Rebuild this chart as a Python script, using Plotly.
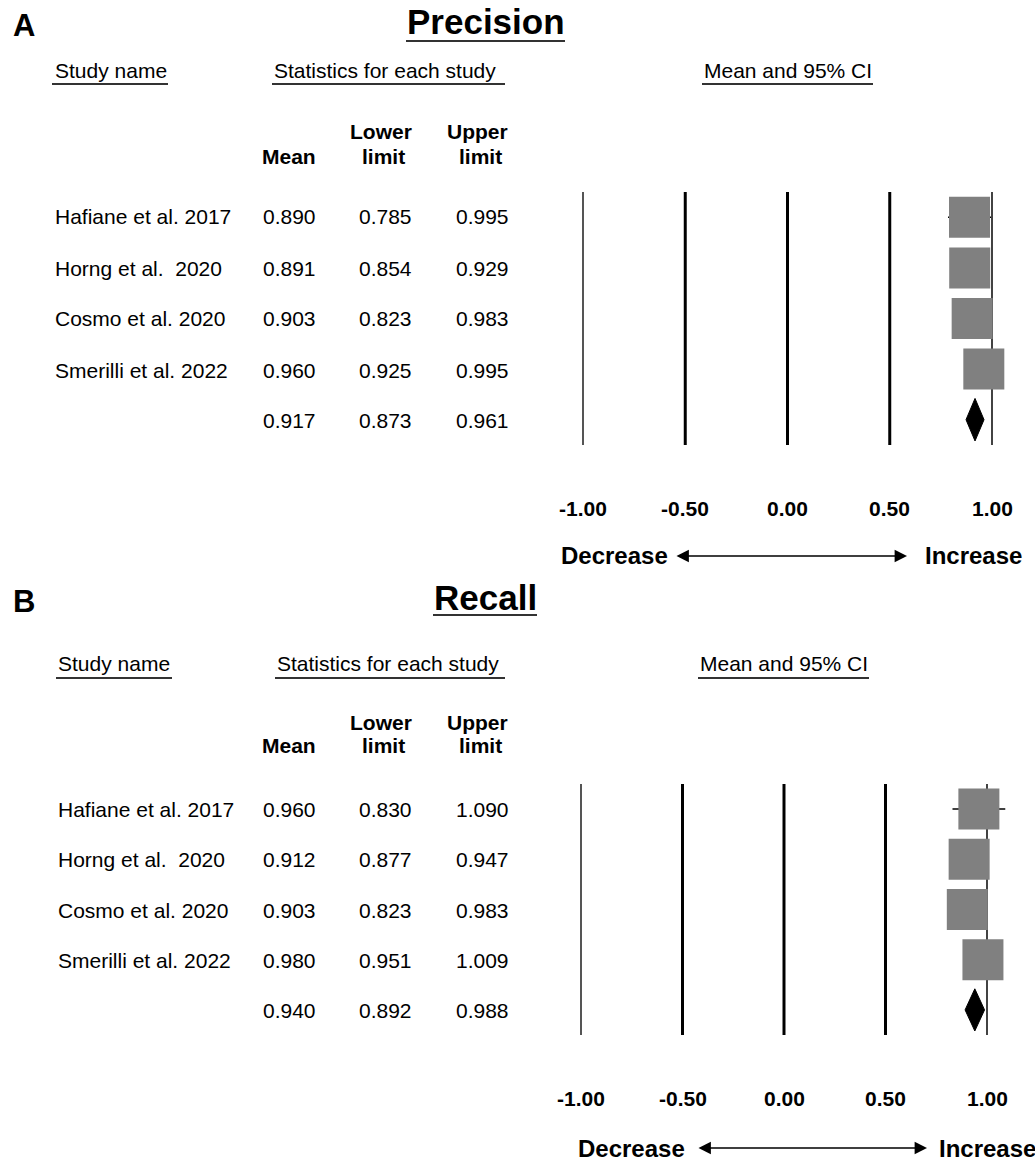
import plotly.graph_objects as go

W, H = 1035, 1163
FONT = "Arial, 'Liberation Sans', sans-serif"

# ---------------- data ----------------
studies = ["Hafiane et al. 2017", "Horng et al.\u00a0 2020", "Cosmo et al. 2020", "Smerilli et al. 2022"]

prec_mean = [0.890, 0.891, 0.903, 0.960]
prec_lower = [0.785, 0.854, 0.823, 0.925]
prec_upper = [0.995, 0.929, 0.983, 0.995]
prec_summary = [0.917, 0.873, 0.961]   # mean, lower, upper

rec_mean = [0.960, 0.912, 0.903, 0.980]
rec_lower = [0.830, 0.877, 0.823, 0.951]
rec_upper = [1.090, 0.947, 0.983, 1.009]
rec_summary = [0.940, 0.892, 0.988]

tick_vals = [-1.0, -0.5, 0.0, 0.5, 1.0]
tick_labels = ["-1.00", "-0.50", "0.00", "0.50", "1.00"]
line_widths = [2, 3, 3, 3, 1.7]
line_colors = ["#555555", "#000000", "#000000", "#000000", "#222222"]

# ---------------- layout helpers (pixel positions) ----------------
panels = [
    dict(letter="A", title="Precision", mean=prec_mean, lower=prec_lower, upper=prec_upper,
         summary=prec_summary, xm1=583, xp1=992, top=192, bot=445,
         title_x=486, title_y=22, title_ul=(406, 565, 41),
         hdr_y=70, hdr_ul_y=84, name_x=53, ul_study=(52, 168), ul_stats=(272, 505), ul_ci=(702, 873),
         ci_x=702, stats_x=272, row_y=[217, 268, 319, 370, 420], lower_y=131, limit_y=156,
         tick_y=508, arr_y=556, arr=(675, 907), dec_x=670, inc_x=923),
    dict(letter="B", title="Recall", mean=rec_mean, lower=rec_lower, upper=rec_upper,
         summary=rec_summary, xm1=581, xp1=987, top=784, bot=1035,
         title_x=485, title_y=597, title_ul=(433, 537, 615),
         hdr_y=663, hdr_ul_y=678, name_x=56, ul_study=(56, 172), ul_stats=(275, 505), ul_ci=(698, 869),
         ci_x=698, stats_x=275, row_y=[809, 859, 910, 960, 1010], lower_y=722, limit_y=746,
         tick_y=1098, arr_y=1148, arr=(697, 927), dec_x=687, inc_x=937),
]

X0 = 560  # left pixel of forest plot area

fig = go.Figure()
annotations = []
shapes = []


def txt(x, y, s, size=21, bold=False, xanchor="left"):
    if bold:
        s = "<b>" + s + "</b>"
    return dict(xref="paper", yref="paper", x=x / W, y=1 - y / H, text=s, showarrow=False,
                xanchor=xanchor, yanchor="middle",
                font=dict(size=size, color="black", family=FONT))


def uline(x0, x1, y):
    return dict(type="line", xref="paper", yref="paper", x0=x0 / W, x1=x1 / W,
                y0=1 - y / H, y1=1 - y / H, line=dict(color="#333333", width=2))


for i, p in enumerate(panels):
    xa = "x" if i == 0 else "x2"
    ya = "y" if i == 0 else "y2"
    ppu = (p["xp1"] - p["xm1"]) / 2.0
    xr = [-1 - (p["xm1"] - X0) / ppu, 1 + (W - p["xp1"]) / ppu]
    ax_x = dict(domain=[X0 / W, 1], range=xr, visible=False, fixedrange=True)
    ax_y = dict(domain=[1 - p["bot"] / H, 1 - p["top"] / H], range=[4.5, -0.5], visible=False,
                fixedrange=True)
    if i == 0:
        fig.update_layout(xaxis=dict(ax_x, anchor="y"), yaxis=dict(ax_y, anchor="x"))
    else:
        fig.update_layout(xaxis2=dict(ax_x, anchor="y2"), yaxis2=dict(ax_y, anchor="x2"))

    n = len(p["mean"])
    rows = list(range(n))
    # study squares with CI whiskers
    fig.add_trace(go.Scatter(
        x=p["mean"], y=rows, xaxis=xa, yaxis=ya, mode="markers",
        marker=dict(symbol="square", size=41, color="#808080", line=dict(width=0)),
        error_x=dict(type="data", symmetric=False,
                     array=[u - m for u, m in zip(p["upper"], p["mean"])],
                     arrayminus=[m - l for m, l in zip(p["mean"], p["lower"])],
                     color="black", thickness=1.5, width=0),
        showlegend=False, hoverinfo="skip"))
    # summary diamond
    sm, sl, su = p["summary"]
    h = 0.42
    fig.add_trace(go.Scatter(
        x=[sl, sm, su, sm, sl], y=[n, n - h, n, n + h, n], xaxis=xa, yaxis=ya,
        mode="lines", fill="toself", fillcolor="black", line=dict(color="black", width=1),
        showlegend=False, hoverinfo="skip"))

    # reference lines at tick values
    for tv, lw, lc in zip(tick_vals, line_widths, line_colors):
        shapes.append(dict(type="line", xref=xa, yref=ya + " domain", x0=tv, x1=tv, y0=0, y1=1,
                           line=dict(color=lc, width=lw), layer="below"))
    # tick labels
    for tv, tl in zip(tick_vals, tick_labels):
        annotations.append(dict(xref=xa, yref="paper", x=tv, y=1 - p["tick_y"] / H, text="<b>" + tl + "</b>",
                                showarrow=False, xanchor="center", yanchor="middle",
                                font=dict(size=21, color="black", family=FONT)))

    # panel letter and title
    annotations.append(txt(11, p["title_y"] + 4, p["letter"], size=31, bold=True))
    annotations.append(txt(p["title_x"], p["title_y"], p["title"], size=35, bold=True, xanchor="center"))
    tx0, tx1, ty = p["title_ul"]
    shapes.append(uline(tx0, tx1, ty))

    # headers
    annotations.append(txt(p["name_x"], p["hdr_y"], "Study name"))
    annotations.append(txt(p["stats_x"], p["hdr_y"], "Statistics for each study"))
    annotations.append(txt(p["ci_x"], p["hdr_y"], "Mean and 95% CI"))
    for (a, b) in (p["ul_study"], p["ul_stats"], p["ul_ci"]):
        shapes.append(uline(a, b, p["hdr_ul_y"]))

    annotations.append(txt(318, p["limit_y"], "Mean", bold=True, xanchor="right"))
    annotations.append(txt(381, p["lower_y"], "Lower", bold=True, xanchor="center"))
    annotations.append(txt(383, p["limit_y"], "limit", bold=True, xanchor="center"))
    annotations.append(txt(477, p["lower_y"], "Upper", bold=True, xanchor="center"))
    annotations.append(txt(480, p["limit_y"], "limit", bold=True, xanchor="center"))

    # table rows
    for r in range(n):
        y = p["row_y"][r]
        annotations.append(txt(p["name_x"], y, studies[r]))
        annotations.append(txt(318, y, f"{p['mean'][r]:.3f}", xanchor="right"))
        annotations.append(txt(414, y, f"{p['lower'][r]:.3f}", xanchor="right"))
        annotations.append(txt(511, y, f"{p['upper'][r]:.3f}", xanchor="right"))
    y = p["row_y"][n]
    annotations.append(txt(318, y, f"{sm:.3f}", xanchor="right"))
    annotations.append(txt(414, y, f"{sl:.3f}", xanchor="right"))
    annotations.append(txt(511, y, f"{su:.3f}", xanchor="right"))

    # Decrease / Increase arrow
    a0, a1 = p["arr"]
    annotations.append(dict(xref="paper", yref="paper", x=a1 / W, y=1 - p["arr_y"] / H,
                            ax=-(a1 - a0), ay=0, text="", showarrow=True, arrowhead=2,
                            arrowside="end+start", arrowsize=1.9, arrowwidth=1.3, arrowcolor="black"))
    annotations.append(txt(p["dec_x"], p["arr_y"], "Decrease", size=24, bold=True, xanchor="right"))
    annotations.append(txt(p["inc_x"], p["arr_y"], "Increase", size=24, bold=True, xanchor="left"))

fig.update_layout(
    width=W, height=H, margin=dict(l=0, r=0, t=0, b=0),
    paper_bgcolor="white", plot_bgcolor="white",
    annotations=annotations, shapes=shapes, showlegend=False,
    font=dict(family=FONT, color="black"),
)

fig.write_html("out.html", config={"displayModeBar": False, "staticPlot": True},
               post_script="document.body.style.margin='0px';document.body.style.overflow='hidden';")
